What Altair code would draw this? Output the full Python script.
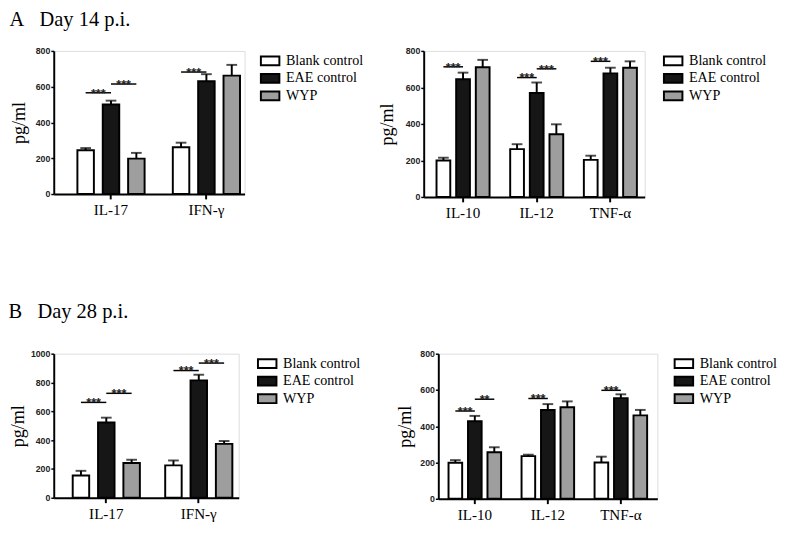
import altair as alt
import pandas as pd

groups = ["Blank control", "EAE control", "WYP"]
fills = ["#ffffff", "#161616", "#9e9e9e"]

# Day 14, left panel
d14a_cats = ["IL-17", "IFN-γ"]
d14a_blank = [245, 262]
d14a_blank_err = [12, 25]
d14a_eae = [500, 630]
d14a_eae_err = [22, 40]
d14a_wyp = [198, 662]
d14a_wyp_err = [32, 60]
d14a_sig = [("IL-17", "Blank control", "EAE control", 566, "***"),
            ("IL-17", "EAE control", "WYP", 615, "***"),
            ("IFN-γ", "Blank control", "EAE control", 682, "***")]

# Day 14, right panel
d14b_cats = ["IL-10", "IL-12", "TNF-α"]
d14b_blank = [200, 262, 203]
d14b_blank_err = [15, 27, 23]
d14b_eae = [645, 570, 677]
d14b_eae_err = [36, 57, 31]
d14b_wyp = [711, 344, 708]
d14b_wyp_err = [40, 54, 35]
d14b_sig = [("IL-10", "Blank control", "EAE control", 713, "***"),
            ("IL-12", "Blank control", "EAE control", 654, "***"),
            ("IL-12", "EAE control", "WYP", 702, "***"),
            ("TNF-α", "Blank control", "EAE control", 743, "***")]

# Day 28, left panel
d28a_cats = ["IL-17", "IFN-γ"]
d28a_blank = [155, 225]
d28a_blank_err = [32, 34]
d28a_eae = [522, 815]
d28a_eae_err = [34, 39]
d28a_wyp = [241, 374]
d28a_wyp_err = [23, 20]
d28a_sig = [("IL-17", "Blank control", "EAE control", 662, "***"),
            ("IL-17", "EAE control", "WYP", 725, "***"),
            ("IFN-γ", "Blank control", "EAE control", 883, "***"),
            ("IFN-γ", "EAE control", "WYP", 935, "***")]

# Day 28, right panel
d28b_cats = ["IL-10", "IL-12", "TNF-α"]
d28b_blank = [199, 235, 200]
d28b_blank_err = [14, 8, 32]
d28b_eae = [427, 490, 555]
d28b_eae_err = [30, 32, 21]
d28b_wyp = [256, 505, 460]
d28b_wyp_err = [28, 32, 30]
d28b_sig = [("IL-10", "Blank control", "EAE control", 484, "***"),
            ("IL-10", "EAE control", "WYP", 549, "**"),
            ("IL-12", "Blank control", "EAE control", 553, "***"),
            ("TNF-α", "Blank control", "EAE control", 598, "***")]

SERIF = "Liberation Serif"
SANS = "Liberation Sans"
BOX = "M-1.9,-0.9H1.9V0.9H-1.9Z"


def panel(cats, means, errs, sigs, ymax, yticks, width, height,
          x_pad, off_pad, legend_offset, title_pad):
    rows = []
    for g, m, e in zip(groups, means, errs):
        for c, v, ev in zip(cats, m, e):
            rows.append({"cat": c, "group": g, "mean": v, "top": v + ev})
    df = pd.DataFrame(rows)

    line_rows, text_rows = [], []
    for i, (c, g1, g2, yv, lab) in enumerate(sigs):
        line_rows.append({"cat": c, "group": g1, "yv": yv, "pair": i})
        line_rows.append({"cat": c, "group": g2, "yv": yv, "pair": i})
        text_rows.append({"cat": c, "group": g1, "yv": yv, "lab": lab})
    ldf = pd.DataFrame(line_rows)
    tdf = pd.DataFrame(text_rows)

    x = alt.X("cat:N", sort=cats, title=None,
              scale=alt.Scale(paddingInner=x_pad[0], paddingOuter=x_pad[1], align=x_pad[2]),
              axis=alt.Axis(labelAngle=0, labelFont=SERIF, labelFontSize=15.5,
                            labelColor="black", labelPadding=4, tickSize=5,
                            tickWidth=2, tickColor="black", domainColor="black",
                            domainWidth=2))
    xo = alt.XOffset("group:N", sort=groups,
                     scale=alt.Scale(paddingInner=off_pad[0], paddingOuter=off_pad[1]))
    yscale = alt.Scale(domain=[0, ymax], nice=False)
    yaxis = alt.Axis(values=yticks, format="d", title="pg/ml", titleFont=SERIF,
                     titleFontSize=18.5, titleFontWeight="normal", titleColor="black",
                     titlePadding=title_pad, labelFont=SANS, labelFontWeight="bold",
                     labelFontSize=9, labelColor="#222222", labelPadding=1, tickSize=3,
                     tickWidth=1.5, tickColor="black", domainColor="black", domainWidth=2,
                     grid=False, labelOverlap=False)

    bars = alt.Chart(df).mark_bar(stroke="black", strokeWidth=2).encode(
        x=x, xOffset=xo,
        y=alt.Y("mean:Q", scale=yscale, axis=yaxis),
        color=alt.Color("group:N", sort=groups,
                        scale=alt.Scale(domain=groups, range=fills),
                        legend=alt.Legend(title=None, orient="right", offset=legend_offset,
                                          symbolType=BOX, symbolSize=100,
                                          symbolStrokeColor="black", symbolStrokeWidth=2,
                                          symbolOpacity=1, labelFont=SERIF,
                                          labelFontSize=14.5, labelColor="black",
                                          labelOffset=9, rowPadding=0, padding=3)),
    )
    err = alt.Chart(df).mark_rule(color="black", strokeWidth=2).encode(
        x=x, xOffset=xo, y=alt.Y("mean:Q", scale=yscale, axis=yaxis), y2="top:Q")
    cap = alt.Chart(df).mark_tick(color="black", thickness=2, size=11).encode(
        x=x, xOffset=xo, y=alt.Y("top:Q", scale=yscale, axis=yaxis))
    sline = alt.Chart(ldf).mark_line(color="black", strokeWidth=1.5).encode(
        x=x, xOffset=xo, y=alt.Y("yv:Q", scale=yscale, axis=yaxis), detail="pair:N")
    stext = alt.Chart(tdf).mark_text(font=SANS, fontSize=13, fontWeight="bold",
                                     baseline="alphabetic", dx=off_pad[2],
                                     dy=5, color="#222222").encode(
        x=x, xOffset=xo, y=alt.Y("yv:Q", scale=yscale, axis=yaxis), text="lab:N")
    return alt.layer(bars, err, cap, sline, stext).properties(width=width, height=height)


pA1 = panel(d14a_cats, [d14a_blank, d14a_eae, d14a_wyp],
            [d14a_blank_err, d14a_eae_err, d14a_wyp_err], d14a_sig,
            800, [0, 200, 400, 600, 800], 196, 147,
            (0.2, 0.1, 1.0), (0.35, 0.18, 13), 16, 7)
pA2 = panel(d14b_cats, [d14b_blank, d14b_eae, d14b_wyp],
            [d14b_blank_err, d14b_eae_err, d14b_wyp_err], d14b_sig,
            800, [0, 200, 400, 600, 800], 227, 150,
            (0.2, 0.1, 0.67), (0.3, 0.15, 10), 19, 9)
pB1 = panel(d28a_cats, [d28a_blank, d28a_eae, d28a_wyp],
            [d28a_blank_err, d28a_eae_err, d28a_wyp_err], d28a_sig,
            1000, [0, 200, 400, 600, 800, 1000], 190, 148,
            (0.2, 0.1, 0.84), (0.35, 0.135, 13), 19, 3)
pB2 = panel(d28b_cats, [d28b_blank, d28b_eae, d28b_wyp],
            [d28b_blank_err, d28b_eae_err, d28b_wyp_err], d28b_sig,
            800, [0, 200, 400, 600, 800], 225, 149,
            (0.2, 0.1, 0.5), (0.3, 0.15, 10), 17, 6)


def title(text, off):
    return alt.TitleParams(text, anchor="start", font=SERIF, fontSize=21,
                           fontWeight="normal", color="black", offset=off)


def indep(c):
    return c.resolve_scale(color="independent", xOffset="independent",
                           x="independent", y="independent").resolve_legend(
        color="independent")


rowA = indep(alt.hconcat(pA1, pA2, spacing=10)).properties(
    title=title("A\u00a0\u00a0\u00a0Day 14 p.i.", 17))
rowB = indep(alt.hconcat(pB1, pB2, spacing=31)).properties(
    title=title("B\u00a0\u00a0\u00a0Day 28 p.i.", 28))

chart = indep(alt.concat(rowA, rowB, columns=1, align="none", spacing=82)).properties(
    padding={"left": 0, "top": -6, "right": 0, "bottom": 0}
).configure_view(stroke=None).configure(background="white")

chart.save("out.html", embed_options={"renderer": "svg", "actions": False})
